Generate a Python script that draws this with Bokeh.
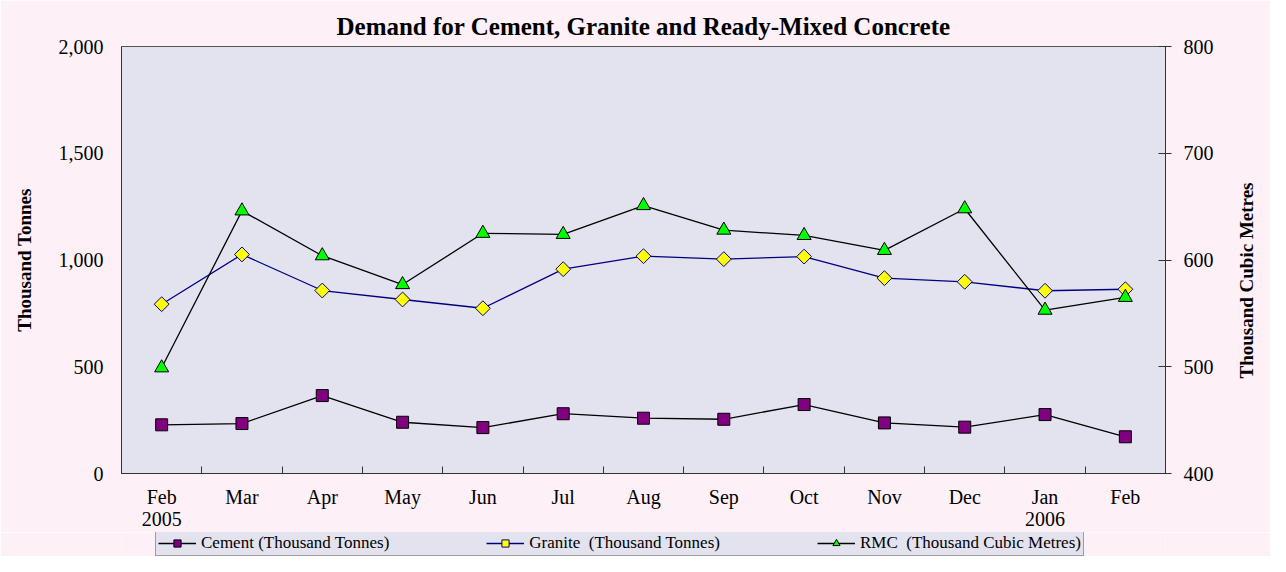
from bokeh.plotting import figure
from bokeh.layouts import column
from bokeh.models import Range1d, LinearAxis, FixedTicker, NumeralTickFormatter, Legend, LegendItem
from bokeh.embed import file_html
from bokeh.resources import INLINE
import math

months = ["Feb\n2005", "Mar", "Apr", "May", "Jun", "Jul", "Aug", "Sep", "Oct", "Nov", "Dec", "Jan\n2006", "Feb"]
cement = [228, 234, 365, 240, 215, 280, 259, 254, 323, 237, 217, 276, 172]
granite = [793, 1026, 857, 815, 774, 957, 1018, 1004, 1016, 915, 898, 856, 863]
rmc = [499, 646, 604, 577, 625, 624, 651, 628, 623, 609, 648, 553, 565]
left_ticks = [0, 500, 1000, 1500, 2000]
right_ticks = [400, 500, 600, 700, 800]
labels = ["Cement (Thousand Tonnes)", "Granite  (Thousand Tonnes)", "RMC  (Thousand Cubic Metres)"]

x = list(range(1, len(months) + 1))
SERIF = "Liberation Serif"
BG = "#FDF0F7"
PLOT_BG = "#E3E3EF"
W = 1270
H1 = 532
H2 = 24

p = figure(width=W, height=H1, output_backend="svg", toolbar_location=None,
           x_range=Range1d(0.5, len(months) + 0.5), y_range=Range1d(0, 2000),
           min_border_left=121, min_border_right=103, min_border_top=46, min_border_bottom=55,
           background_fill_color=PLOT_BG, border_fill_color=BG,
           outline_line_color="#555555", outline_line_width=1)

p.title.text = "Demand for Cement, Granite and Ready-Mixed Concrete"
p.title.align = "center"
p.title.text_font = SERIF
p.title.text_font_size = "25px"
p.title.text_font_style = "bold"
p.title.text_color = "black"
p.title.offset = 0
p.title.standoff = 14

p.grid.visible = False

p.extra_y_ranges = {"rmc": Range1d(400, 800)}
raxis = LinearAxis(y_range_name="rmc")
p.add_layout(raxis, "right")

# x axis
xa = p.xaxis[0]
xa.ticker = FixedTicker(ticks=x, minor_ticks=[i + 0.5 for i in range(0, len(months) + 1)])
xa.major_label_overrides = {i: m for i, m in zip(x, months)}
xa.major_tick_line_color = None
xa.minor_tick_in = 7
xa.minor_tick_out = 0
xa.minor_tick_line_color = "#333333"
xa.axis_line_color = "#333333"
xa.major_label_text_font = SERIF
xa.major_label_text_font_size = "20px"
xa.major_label_text_line_height = 1.0
xa.major_label_text_color = "black"
xa.major_label_standoff = 6

# left axis
ya = p.yaxis[0]
ya.ticker = FixedTicker(ticks=left_ticks, minor_ticks=[])
ya.formatter = NumeralTickFormatter(format="0,0")
ya.major_tick_line_color = None
ya.minor_tick_line_color = None
ya.axis_line_color = "#333333"
ya.major_label_text_font = SERIF
ya.major_label_text_font_size = "20px"
ya.major_label_text_color = "black"
ya.major_label_standoff = 12
ya.axis_label = "Thousand Tonnes"
ya.axis_label_text_font = SERIF
ya.axis_label_text_font_size = "19px"
ya.axis_label_text_font_style = "bold"
ya.axis_label_text_color = "black"
ya.axis_label_standoff = 21

# right axis
raxis.ticker = FixedTicker(ticks=right_ticks, minor_ticks=[])
raxis.major_tick_in = 7
raxis.major_tick_out = 6
raxis.major_tick_line_color = "#333333"
raxis.minor_tick_line_color = None
raxis.axis_line_color = "#333333"
raxis.major_label_text_font = SERIF
raxis.major_label_text_font_size = "20px"
raxis.major_label_text_color = "black"
raxis.major_label_standoff = 12
raxis.axis_label_text_font = SERIF
raxis.axis_label_text_font_size = "19px"
raxis.axis_label_text_font_style = "bold"
raxis.axis_label_text_color = "black"
raxis.axis_label_standoff = 30
right_label = "Thousand Cubic Metres"
if hasattr(raxis, "axis_label_orientation"):
    raxis.axis_label_orientation = math.pi / 2
    if hasattr(raxis, "axis_label_align"):
        raxis.axis_label_align = "start"
        right_label = "\u00a0" * 20 + right_label
raxis.axis_label = right_label


def add_series(fig, yr=None):
    kw = {} if yr is None else {"y_range_name": yr}
    l1 = fig.line(x, cement, line_color="black", line_width=1.3)
    s1 = fig.scatter(x, cement, marker="square", size=12, fill_color="#800080",
                     line_color="black", line_width=1)
    l2 = fig.line(x, granite, line_color="#000080", line_width=1.3)
    s2 = fig.scatter(x, granite, marker="square", size=10.5, angle=math.pi / 4,
                     fill_color="#FFFF00", line_color="#000080", line_width=1)
    l3 = fig.line(x, rmc, line_color="black", line_width=1.3, **kw)
    s3 = fig.scatter(x, rmc, marker="triangle", size=14, fill_color="#00FF00",
                     line_color="black", line_width=1, **kw)
    return [(l1, s1), (l2, s2), (l3, s3)]


add_series(p, "rmc")

# legend strip below the chart (same series, drawn out of view so only the legend shows)
q = figure(width=W, height=H2, output_backend="svg", toolbar_location=None,
           x_range=Range1d(100, 101), y_range=Range1d(-2, -1),
           x_axis_location=None, y_axis_location=None,
           min_border_left=0, min_border_right=0, min_border_top=0, min_border_bottom=0,
           background_fill_color=BG, border_fill_color=BG, outline_line_color=None)
q.grid.visible = False
pairs = add_series(q)

legend = Legend(items=[LegendItem(label=lab, renderers=list(rs)) for lab, rs in zip(labels, pairs)],
                orientation="horizontal", location=(34, 0))
legend.label_text_font = SERIF
legend.label_text_font_size = "17px"
legend.label_text_color = "black"
legend.label_height = 18
legend.glyph_width = 38
legend.glyph_height = 18
legend.label_standoff = 5
legend.spacing = 97
legend.padding = 2
legend.margin = 0
legend.border_line_color = "#555555"
legend.border_line_width = 1
legend.background_fill_color = PLOT_BG
legend.background_fill_alpha = 1
q.add_layout(legend, "center")

layout = column(p, q, spacing=0)
open("out.html", "w").write(file_html(layout, INLINE))
